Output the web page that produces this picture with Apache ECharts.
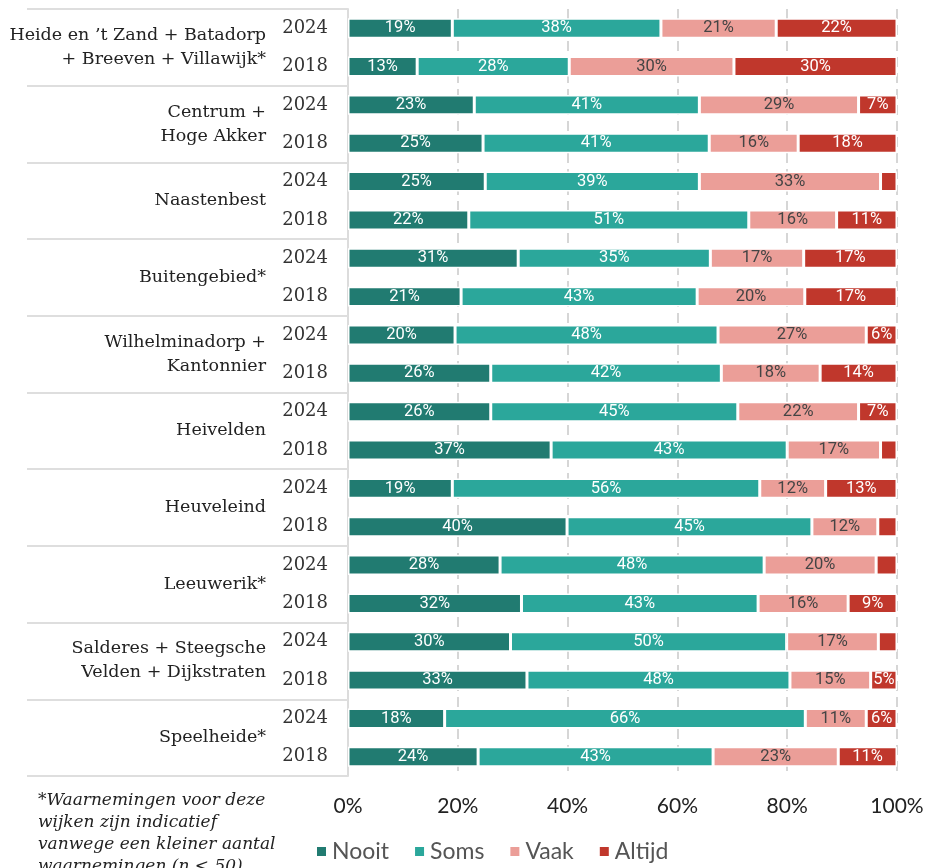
<!DOCTYPE html>
<html>
<head>
<meta charset="utf-8">
<script src="https://cdn.jsdelivr.net/npm/echarts@6/dist/echarts.min.js"></script>
<style>
  html, body { margin: 0; padding: 0; background: #fff; }
  #main { width: 940px; height: 868px; }
</style>
</head>
<body>
<div id="main"></div>
<script>
// wijken (elk 2 jaren)
var wijken = [
  'Heide en ’t Zand + Batadorp\n+ Breeven + Villawijk*',
  'Centrum +\nHoge Akker',
  'Naastenbest',
  'Buitengebied*',
  'Wilhelminadorp +\nKantonnier',
  'Heivelden',
  'Heuveleind',
  'Leeuwerik*',
  'Salderes + Steegsche\nVelden + Dijkstraten',
  'Speelheide*'
]
var jaren = ['2024', '2018', '2024', '2018', '2024', '2018', '2024', '2018', '2024', '2018',
  '2024', '2018', '2024', '2018', '2024', '2018', '2024', '2018', '2024', '2018']

var nooit  = [19, 12.6, 23, 24.6, 25, 22, 31, 20.6, 19.5, 26, 26, 37, 19, 39.9, 27.7, 31.6, 29.6, 32.6, 17.6, 23.7]
var soms   = [38, 27.7, 41, 41.2, 39, 51, 35, 43, 47.9, 42, 45, 43, 56, 44.6, 48.1, 43.1, 50.3, 47.9, 65.7, 42.8]
var vaak   = [21, 30, 29, 16.2, 33, 16, 17, 19.6, 27, 18, 22, 17, 12, 12, 20.4, 16.4, 16.7, 14.7, 11.1, 22.8]
var altijd = [22, 29.7, 7, 18, 3, 11, 17, 16.8, 5.6, 14, 7, 3, 13, 3.5, 3.8, 8.9, 3.4, 4.8, 5.6, 10.7]

var xTicks = [0, 20, 40, 60, 80, 100]

var kleuren = ['#217b71', '#2ba79b', '#eb9e98', '#c0372c']
var labelKleur = ['#fff', '#fff', '#444', '#fff']
var namen = ['Nooit', 'Soms', 'Vaak', 'Altijd']
var reeksen = [nooit, soms, vaak, altijd]

var chart = echarts.init(document.getElementById('main'))

var series = reeksen.map(function (data, i) {
  return {
    name: namen[i],
    type: 'bar',
    stack: 'totaal',
    barWidth: '52%',
    data: data,
    itemStyle: {
      color: kleuren[i],
      borderColor: '#fff',
      borderWidth: 1.5
    },
    label: {
      show: true,
      position: 'inside',
      color: labelKleur[i],
      fontFamily: 'Roboto',
      fontSize: 16.5,
      formatter: function (p) {
        if (p.value < 4.5) return ''
        return Math.round(p.value) + '%'
      }
    }
  }
})

var option = {
  animation: false,
  grid: {
    left: 348,
    right: 43,
    top: 9,
    bottom: 92
  },
  legend: {
    bottom: 0,
    left: 310,
    itemWidth: 11,
    itemHeight: 11,
    itemGap: 24,
    icon: 'rect',
    textStyle: {
      fontFamily: 'Lato',
      fontSize: 23,
      color: '#555'
    },
    data: namen
  },
  xAxis: {
    type: 'value',
    min: 0,
    max: 100,
    interval: 20,
    axisLine: { show: false },
    axisTick: { show: false },
    axisLabel: {
      margin: 20,
      fontFamily: 'Lato',
      fontSize: 21,
      color: '#222',
      formatter: function (v) { return xTicks.indexOf(v) >= 0 ? v + '%' : '' }
    },
    splitLine: {
      show: true,
      lineStyle: { color: '#d6d6d6', type: [10, 6], width: 2 }
    }
  },
  yAxis: [{
    type: 'category',
    inverse: true,
    data: jaren,
    axisLine: { show: true, lineStyle: { color: '#dcdcdc', width: 2 } },
    axisTick: { show: false },
    axisLabel: {
      margin: 20,
      fontFamily: 'DejaVu Serif',
      fontSize: 18,
      color: '#333'
    }
  }, {
    type: 'category',
    inverse: true,
    position: 'left',
    offset: 0,
    data: wijken,
    axisLine: { show: false },
    axisTick: {
      show: true,
      length: 321,
      lineStyle: { color: '#dedede', width: 2 }
    },
    axisLabel: {
      margin: 82,
      fontFamily: 'DejaVu Serif',
      fontSize: 17.5,
      lineHeight: 24,
      color: '#222',
      align: 'right'
    }
  }],
  graphic: [{
    type: 'text',
    left: 38,
    top: 790,
    style: {
      text: '*Waarnemingen voor deze\nwijken zijn indicatief\nvanwege een kleiner aantal\nwaarnemingen (n < 50)',
      font: 'italic 17px "DejaVu Serif"',
      lineHeight: 22,
      fill: '#222'
    }
  }],
  series: series
}

chart.setOption(option)
</script>
</body>
</html>
